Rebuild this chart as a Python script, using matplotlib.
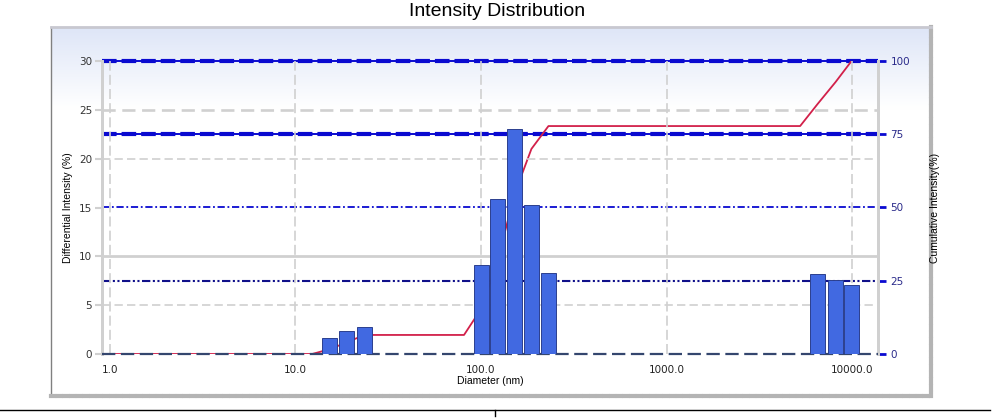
import numpy as np
import matplotlib.pyplot as plt
from matplotlib.lines import Line2D

# size classes (nm) and differential intensity (%)
sizes_nm = [15.2, 18.8, 23.5, 100.6, 122.7, 151.6, 187.0, 231.0, 6516, 8146, 9937]
intensity = [1.6, 2.35, 2.75, 9.1, 15.9, 23.0, 15.3, 8.3, 8.2, 7.6, 7.1]

# cumulative curve (%)
cum_sizes = [0.92, 12.3, 15.2, 18.8, 23.5, 81.0, 100.6, 122.7, 151.6, 187.0, 231.0, 5250, 6516, 8146, 9937]
cum_vals = [0, 0, 1.6, 3.9, 6.5, 6.5, 15.6, 31.6, 54.6, 70.0, 77.8, 77.8, 85.3, 92.8, 100]

x_ticks = [1, 10, 100, 1000, 10000]
x_labels = ['1.0', '10.0', '100.0', '1000.0', '10000.0']
left_ticks = [0, 5, 10, 15, 20, 25, 30]
right_ticks = [0, 25, 50, 75, 100]

W, H = 1002, 420
fig = plt.figure(figsize=(W / 100, H / 100), dpi=100)

# background panel with light gradient on top
bg = fig.add_axes([51 / W, 1 - 396 / H, (931 - 51) / W, (396 - 27) / H], zorder=0)
grad = np.linspace(0, 1, 256).reshape(-1, 1)
top = np.array([0.87, 0.90, 0.97])
rgb = np.ones((256, 1, 3))
frac = np.clip(1 - grad / 0.22, 0, 1)
rgb = rgb * (1 - frac[..., None]) + top * frac[..., None]
bg.imshow(rgb, aspect='auto', extent=[0, 1, 0, 1], origin='upper')
bg.set_xticks([]), bg.set_yticks([])
bg.spines['left'].set_color('#808080')
bg.spines['left'].set_linewidth(1)
bg.spines['top'].set_color('#c8c8d0')
bg.spines['top'].set_linewidth(2)
for s in ['right', 'bottom']:
    bg.spines[s].set_color('#b4b4b4')
    bg.spines[s].set_linewidth(3)
    bg.spines[s].set_linestyle((0, (0.8, 0.8)))

ax = fig.add_axes([102 / W, 1 - 354 / H, (878 - 102) / W, (354 - 61) / H], zorder=2)
ax.set_facecolor('none')
ax.set_xscale('log')
ax.set_xlim(0.906, 13800)
ax.set_ylim(0, 30)

grey = '#d0d0d0'
blue = '#0a0ad0'

# left-axis grid
for v in [5, 20, 25]:
    ax.axhline(v, color=grey, lw=1.2 if v != 25 else 1.9, dashes=(5, 2.5), zorder=1)
ax.axhline(10, color=grey, lw=2.0, zorder=1)
for xv in x_ticks:
    ax.axvline(xv, color=grey, lw=1.2, dashes=(6, 2.5), zorder=1)
ax.axhline(0, color='#34466e', lw=1.6, dashes=(6, 2.5), zorder=3, clip_on=False)

# bars
half = 0.0404
lefts = [s * 10 ** -half for s in sizes_nm]
widths = [s * (10 ** half - 10 ** -half) for s in sizes_nm]
ax2 = ax.twinx()
ax2.set_ylim(0, 100)
ax2.set_zorder(1)
ax.set_zorder(2)

# right-axis grid (blue lines)
for v in [75, 100]:
    ax2.axhline(v, color=blue, lw=1.4, zorder=1, clip_on=False)
    ax2.axhline(v, color=blue, lw=3.0, dashes=(3.5, 1.2), zorder=1, clip_on=False)
ax2.axhline(50, color=blue, lw=1.3, dashes=(4, 1.5, 1, 1.5), zorder=1)
ax2.axhline(25, color='#10108a', lw=1.5, dashes=(4, 1.2, 1, 1.2, 1, 1.2), zorder=1)
ax2.plot(cum_sizes, cum_vals, color='#d2204a', lw=1.3, zorder=2)

ax.bar(lefts, intensity, width=widths, align='edge', color='#4169e1',
       edgecolor='#2b3f8f', lw=0.7, zorder=4)

for a in (ax, ax2):
    for s in ['top', 'bottom']:
        a.spines[s].set_visible(False)
    a.spines['left'].set_color(grey)
    a.spines['left'].set_linewidth(2)
    a.spines['right'].set_color(grey)
    a.spines['right'].set_linewidth(2)

ax.set_xticks(x_ticks)
ax.set_xticklabels(x_labels)
ax.xaxis.set_minor_locator(plt.NullLocator())
ax.tick_params(axis='x', length=0, pad=8, labelsize=7.5, labelcolor='#222222')
ax.set_yticks(left_ticks)
ax.tick_params(axis='y', length=5, width=1.5, color=grey, pad=2, labelsize=7.5,
               labelcolor='#333333')
ax2.set_yticks(right_ticks)
ax2.tick_params(axis='y', length=6, width=2, color=blue, pad=3, labelsize=7.5,
                labelcolor='#2a2a8a')

ax.set_xlabel('Diameter (nm)', fontsize=7.5, family='Liberation Sans', labelpad=1)
ax.set_ylabel('Differential Intensity (%)', fontsize=7.5, family='Liberation Sans', labelpad=4)
ax2.set_ylabel('Cumulative Intensity(%)', fontsize=7.5, family='Liberation Sans', labelpad=14)

fig.text(497 / W, 1 - 12 / H, 'Intensity Distribution', ha='center', va='center',
         fontsize=14, family='Liberation Sans')

fig.add_artist(Line2D([0, 990 / W], [1 - 410 / H] * 2, color='black', lw=1))
fig.add_artist(Line2D([495 / W] * 2, [1 - 410 / H, 1 - 416 / H], color='black', lw=1))

fig.savefig('out.png', dpi=100)
